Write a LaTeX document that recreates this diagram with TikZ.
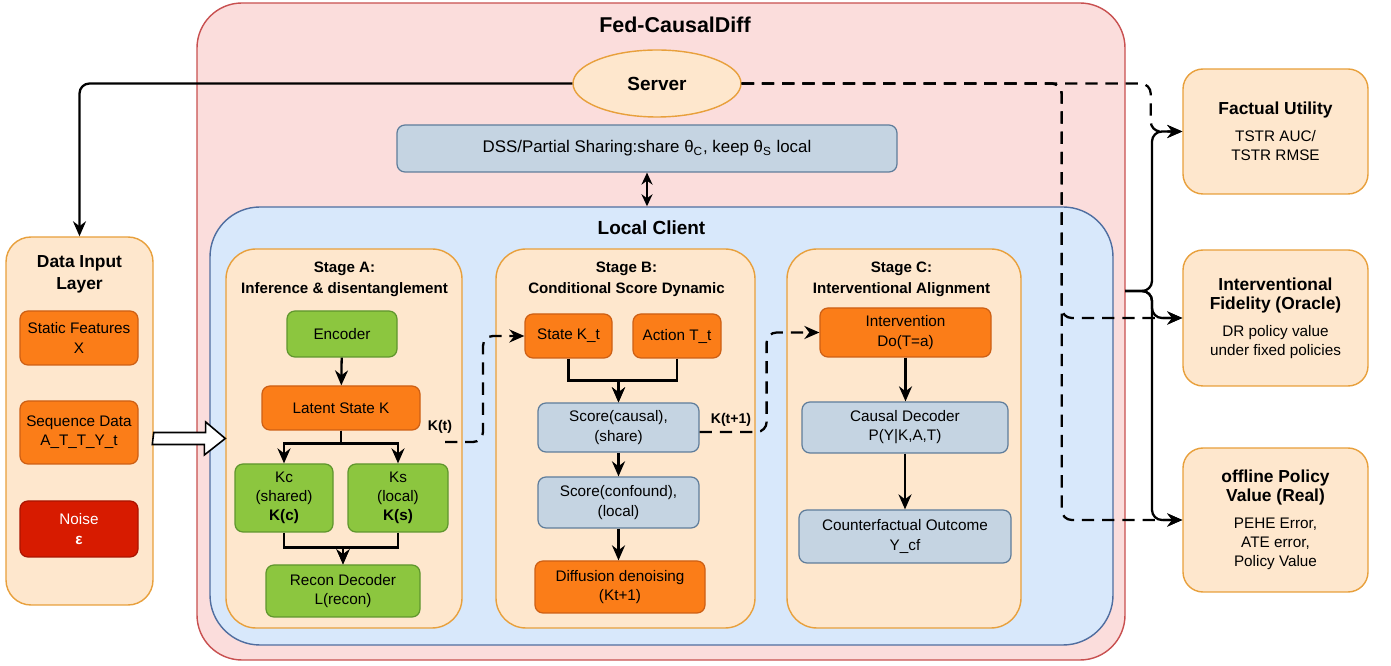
\documentclass[tikz,border=0pt]{standalone}
\usepackage{fontspec}
\setmainfont{Liberation Sans}
\usepackage{tikz}
\usetikzlibrary{positioning, calc, shapes.geometric, arrows.meta}

\definecolor{fedfill}{RGB}{251,221,220}
\definecolor{fedline}{RGB}{200,80,80}
\definecolor{localfill}{RGB}{216,232,251}
\definecolor{localline}{RGB}{80,110,160}
\definecolor{stagefill}{RGB}{254,231,205}
\definecolor{stageline}{RGB}{232,160,60}
\definecolor{greenfill}{RGB}{140,198,63}
\definecolor{greenline}{RGB}{95,150,45}
\definecolor{orangefill}{RGB}{251,125,24}
\definecolor{orangeline}{RGB}{205,95,20}
\definecolor{grayfill}{RGB}{197,212,226}
\definecolor{grayline}{RGB}{95,125,155}
\definecolor{noisefill}{RGB}{215,27,0}
\definecolor{noiseline}{RGB}{170,20,0}

\newcommand{\bodyfont}{\fontsize{8.7}{10.9}\selectfont}
\newcommand{\hdfont}{\fontsize{9.9}{12.4}\selectfont\bfseries}
\newcommand{\stagefont}{\fontsize{8.6}{11.9}\selectfont\bfseries}
\newcommand{\bigfont}{\fontsize{10.8}{13}\selectfont\bfseries}

\begin{document}
\begin{tikzpicture}[
    container/.style={rectangle, draw, line width=0.8pt},
    stagebox/.style={rectangle, draw=stageline, fill=stagefill, line width=0.8pt, rounded corners=0.6cm, minimum height=7.58cm},
    box/.style={rectangle, rounded corners=0.16cm, line width=0.7pt, align=center, font=\bodyfont, inner sep=1pt},
    greenbox/.style={box, draw=greenline, fill=greenfill},
    orangebox/.style={box, draw=orangeline, fill=orangefill},
    graybox/.style={box, draw=grayline, fill=grayfill},
    metricbox/.style={rectangle, draw=stageline, fill=stagefill, line width=0.8pt, rounded corners=0.4cm, minimum width=3.7cm, align=center, font=\bodyfont},
    edgelabel/.style={font=\fontsize{8}{9.6}\selectfont\bfseries, inner sep=1pt},
    arrow/.style={-{Stealth[length=0.3cm, width=0.26cm]}, line width=1.3pt},
    dasharrow/.style={arrow, dash pattern=on 7pt off 4.5pt, rounded corners=0.2cm},
    dblarrow/.style={{Stealth[length=0.24cm, width=0.22cm]}-{Stealth[length=0.24cm, width=0.22cm]}, line width=1.3pt},
    hollow/.style={draw, fill=white, line width=0.9pt}
]
    \useasboundingbox (0,0) rectangle (27.82,-13.32);

    \node[container, draw=fedline, fill=fedfill, rounded corners=0.9cm, minimum width=18.56cm, minimum height=13.14cm] (fed) at (13.22,-6.63) {};
    \node[font=\fontsize{12.2}{14}\selectfont\bfseries] (fedtitle) at (13.5,-0.5) {Fed-CausalDiff};

    \node[ellipse, draw=stageline, fill=stagefill, line width=0.8pt, minimum width=3.36cm, minimum height=1.34cm, inner sep=0pt, font=\bigfont] (server) at (13.14,-1.67) {Server};

    \node[graybox, minimum width=10cm, minimum height=0.94cm, font=\fontsize{9.6}{11.5}\selectfont] (dss) at (12.94,-2.97)
        {DSS/Partial Sharing:share θ\textsubscript{C}, keep θ\textsubscript{S} local};

    \node[container, draw=localline, fill=localfill, rounded corners=1cm, minimum width=18.06cm, minimum height=8.76cm] (local) at (13.23,-8.52) {};
    \node[font=\bigfont] (localtitle) at (13.03,-4.56) {Local Client};

    % stages
    \node[stagebox, minimum width=4.72cm] (stageA) at (6.88,-8.77) {};
    \node[stagebox, minimum width=5.18cm] (stageB) at (12.51,-8.77) {};
    \node[stagebox, minimum width=4.68cm] (stageC) at (18.08,-8.77) {};
    \node[font=\stagefont, align=center] (titleA) at (6.89,-5.59) {Stage A:\\Inference \& disentanglement};
    \node[font=\stagefont, align=center] (titleB) at (12.53,-5.59) {Stage B:\\Conditional Score Dynamic};
    \node[font=\stagefont, align=center] (titleC) at (18.03,-5.59) {Stage C:\\Interventional Alignment};

    \node[greenbox, minimum width=2.2cm, minimum height=0.92cm] (encoder) at (6.84,-6.68) {Encoder};
    \node[orangebox, minimum width=3.16cm, minimum height=0.88cm] (latent) at (6.82,-8.16) {Latent State K};
    \node[greenbox, minimum width=1.96cm, minimum height=1.36cm] (kc) at (5.68,-9.96) {Kc\\(shared)\\\textbf{K(c)}};
    \node[greenbox, minimum width=2.0cm, minimum height=1.36cm] (ks) at (7.96,-9.96) {Ks\\(local)\\\textbf{K(s)}};
    \node[greenbox, minimum width=3.08cm, minimum height=1.04cm] (recon) at (6.86,-11.82) {Recon Decoder\\L(recon)};

    \node[orangebox, minimum width=1.74cm, minimum height=0.88cm] (state) at (11.37,-6.72) {State K\_t};
    \node[orangebox, minimum width=1.76cm, minimum height=0.88cm] (action) at (13.54,-6.72) {Action T\_t};
    \node[graybox, minimum width=3.22cm, minimum height=0.98cm] (scorec) at (12.37,-8.55) {Score(causal),\\(share)};
    \node[graybox, minimum width=3.22cm, minimum height=1.02cm] (scoref) at (12.37,-10.05) {Score(confound),\\(local)};
    \node[orangebox, minimum width=3.4cm, minimum height=1.04cm] (diff) at (12.4,-11.74) {Diffusion denoising\\(Kt+1)};

    \node[orangebox, minimum width=3.42cm, minimum height=0.98cm] (interv) at (18.11,-6.65) {Intervention\\Do(T=a)};
    \node[graybox, minimum width=4.12cm, minimum height=1.02cm] (cdec) at (18.1,-8.55) {Causal Decoder\\P(Y|K,A,T)};
    \node[graybox, minimum width=4.24cm, minimum height=1.06cm] (cf) at (18.1,-10.73) {Counterfactual Outcome\\Y\_cf};

    % input layer
    \node[container, draw=stageline, fill=stagefill, rounded corners=0.5cm, minimum width=2.94cm, minimum height=7.36cm] (inlayer) at (1.59,-8.42) {};
    \node[font=\hdfont, align=center] (intitle) at (1.59,-5.48) {Data Input\\Layer};
    \node[orangebox, minimum width=2.36cm, minimum height=1.08cm] (static) at (1.58,-6.76) {Static Features\\X};
    \node[orangebox, minimum width=2.36cm, minimum height=1.26cm] (seqdata) at (1.58,-8.65) {Sequence Data\\A\_T\_T\_Y\_t};
    \node[box, draw=noiseline, fill=noisefill, text=white, minimum width=2.36cm, minimum height=1.12cm] (noise) at (1.58,-10.58) {Noise\\\textbf{ε}};

    % metrics
    \node[metricbox, minimum height=2.5cm] (factual) at (25.51,-2.63)
        {{\hdfont Factual Utility}\\[4.5pt]TSTR AUC/\\TSTR RMSE};
    \node[metricbox, minimum height=2.72cm] (fidelity) at (25.51,-6.36)
        {{\hdfont Interventional}\\{\hdfont Fidelity (Oracle)}\\[4.5pt]DR policy value\\under fixed policies};
    \node[metricbox, minimum height=2.88cm] (offline) at (25.51,-10.4)
        {{\hdfont offline Policy}\\{\hdfont Value (Real)}\\[4.5pt]PEHE Error,\\ATE error,\\Policy Value};

    \draw[arrow, rounded corners=0.2cm] (server.west) -| (inlayer.north);
    \draw[dblarrow] (dss.south) -- (dss.south |- local.north);

    \draw[arrow] (encoder) -- (latent);
    \draw[arrow] (latent.south) -- ++(0,-0.26) -| (kc.north);
    \draw[arrow] (latent.south) -- ++(0,-0.26) -| (ks.north);
    \draw[arrow] (kc.south) -- ++(0,-0.3) -| (recon.north);
    \draw[arrow] (ks.south) -- ++(0,-0.3) -| (recon.north);

    \draw[arrow] (state.south) -- ++(0,-0.44) -| (scorec.north);
    \draw[arrow] (action.south) -- ++(0,-0.44) -| (scorec.north);
    \draw[arrow] (scorec) -- (scoref);
    \draw[arrow] (scoref.south) -- (scoref.south |- diff.north);

    \draw[arrow] (interv.south) -- (interv.south |- cdec.north);
    \draw[arrow] (cdec.south) -- (cdec.south |- cf.north);

    \coordinate (ktout) at (8.9,-8.84);
    \draw[dasharrow] (ktout) -- ++(0.76,0) |- (state.west);
    \node[edgelabel] (ktlabel) at (8.8,-8.54) {K(t)};
    \draw[dasharrow] ([yshift=-0.09cm]scorec.east) -- ++(1.34,0) |- (interv.west);
    \node[edgelabel] (ktnext) at (14.62,-8.4) {K(t+1)};

    \draw[hollow] ($(inlayer.east |- stageA.west)+(0,0.12)$) -- ++(1.04,0) -- ++(0,0.21) -- (stageA.west)
        -- ++(-0.42,-0.33) -- ++(0,0.21) -- ++(-1.04,0) -- cycle;

    \draw[dasharrow] (server.east) -- ++(8.18,0) |- (factual.west);
    \draw[dasharrow] (server.east) -- ++(6.4,0) |- (fidelity.west);
    \draw[dasharrow] (server.east) -- ++(6.4,0) |- (offline.west);

    \coordinate (fedout) at (22.5,-5.82);
    \draw[arrow, rounded corners=0.2cm] (fedout) -- ++(0.54,0) |- (factual.west);
    \draw[arrow, rounded corners=0.2cm] (fedout) -- ++(0.54,0) |- (fidelity.west);
    \draw[arrow, rounded corners=0.2cm] (fedout) -- ++(0.54,0) |- (offline.west);
\end{tikzpicture}
\end{document}
